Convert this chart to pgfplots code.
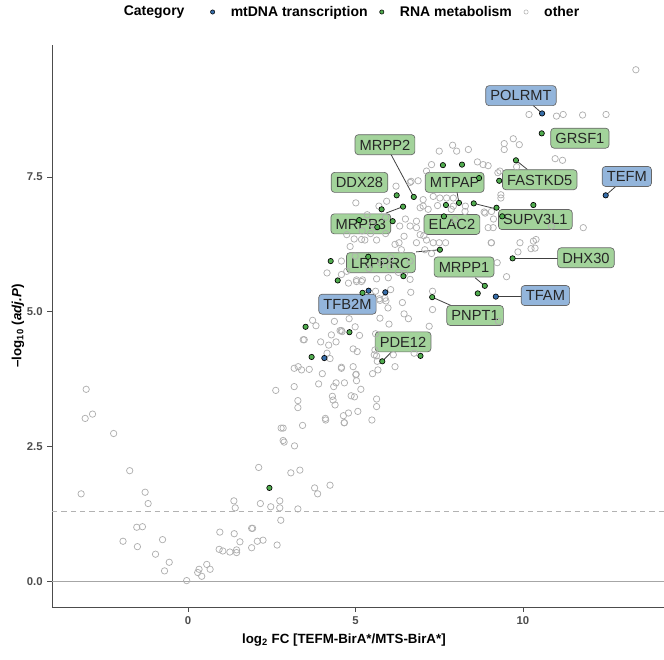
\documentclass[border=0pt]{standalone}
\usepackage{fontspec}
\setmainfont{Liberation Sans}
\usepackage{pgfplots}
\pgfplotsset{compat=1.18}
\definecolor{ogray}{RGB}{175,175,175}
\definecolor{ptgreen}{RGB}{80,172,78}
\definecolor{ptblue}{RGB}{55,110,170}
\definecolor{lblgreen}{RGB}{140,200,130}
\definecolor{lblblue}{RGB}{120,162,210}
\definecolor{tickgray}{RGB}{77,77,77}

\pgfplotstableread{
x y
-3.04 3.56
-3.07 3.02
-2.85 3.10
-2.22 2.74
-1.74 2.05
-3.19 1.62
-1.28 1.65
-1.19 1.44
-1.53 1.00
-1.36 1.01
-1.94 0.74
-1.51 0.64
-0.76 0.77
-0.97 0.50
-0.56 0.35
-0.70 0.19
-0.04 0.01
0.33 0.22
0.29 0.16
0.41 0.09
0.56 0.31
0.66 0.22
0.95 0.91
0.93 0.59
1.04 0.56
1.25 0.54
1.38 0.88
1.45 0.58
1.45 0.53
1.55 0.73
1.37 1.49
1.41 1.36
1.90 0.98
1.93 0.98
1.90 0.62
2.07 0.74
2.24 0.76
2.11 2.11
2.16 1.44
2.47 1.38
2.66 0.67
2.74 1.49
2.74 1.36
2.77 1.13
2.62 3.54
3.17 3.95
3.39 3.92
3.17 3.61
3.28 3.35
3.28 3.22
3.42 2.89
2.78 2.84
2.84 2.84
2.84 2.61
2.87 2.58
3.18 2.51
3.07 2.01
3.34 2.06
3.28 1.34
3.78 1.73
3.87 1.62
4.24 1.78
4.11 2.99
4.66 2.94
5.49 2.99
4.24 4.13
3.47 4.48
3.96 4.44
4.20 4.38
4.28 4.57
4.42 4.44
4.60 4.63
5.12 4.56
4.15 4.23
4.93 4.31
5.05 4.26
3.62 3.93
4.01 3.85
4.58 3.95
5.02 3.84
5.03 3.72
4.42 3.68
4.35 3.61
4.67 3.68
3.90 3.66
5.16 3.56
4.87 3.44
4.97 3.42
4.31 3.43
4.33 3.36
4.39 3.27
4.79 3.12
5.07 3.15
5.63 3.38
5.63 3.24
4.64 3.07
4.67 2.94
4.10 3.02
5.60 4.59
5.63 4.18
5.65 4.08
5.51 3.85
5.67 3.92
4.58 3.97
5.01 3.83
3.72 4.84
3.82 4.74
4.37 4.82
4.81 4.87
4.58 4.65
4.99 4.72
4.74 6.43
4.84 6.21
5.18 6.34
4.99 6.03
4.58 5.94
4.15 5.72
4.58 5.69
4.79 5.53
5.03 5.59
5.21 5.59
4.74 5.75
4.96 6.35
5.28 6.33
5.63 6.33
5.63 5.61
5.98 5.63
6.63 5.60
6.65 5.36
6.05 5.41
5.60 5.38
5.71 5.24
5.88 5.25
5.97 5.07
5.73 4.88
6.00 4.77
6.45 4.96
6.58 4.87
6.46 5.71
7.20 4.73
7.30 5.04
7.30 5.38
6.82 6.56
6.93 6.43
7.12 6.33
7.50 6.28
7.69 6.28
6.37 6.15
6.18 6.25
7.07 6.15
7.27 6.08
6.63 5.94
6.03 5.84
6.28 5.73
6.40 5.17
9.27 4.82
6.75 4.23
6.13 4.20
5.56 4.20
5.58 4.29
3.29 3.98
4.93 3.98
6.18 3.98
5.01 7.02
5.70 6.96
5.93 7.05
7.02 6.96
7.45 6.97
7.92 6.96
8.28 6.96
8.84 6.85
9.12 6.72
9.11 6.56
11.80 6.56
10.39 6.34
10.24 6.17
9.85 6.11
9.51 5.65
9.05 6.28
6.87 7.43
6.66 7.42
6.21 7.33
6.49 6.72
6.32 6.59
6.63 6.59
6.82 6.68
6.93 6.93
7.17 6.90
7.27 7.73
7.12 7.61
6.30 6.28
6.82 6.28
5.63 6.56
10.18 8.66
11.00 8.63
11.20 8.66
9.71 8.21
9.44 8.12
9.44 8.01
9.89 8.10
10.96 7.84
11.18 7.81
7.50 7.98
7.90 8.09
8.02 7.98
8.37 8.01
8.64 7.78
8.81 7.73
8.96 7.71
9.31 7.61
9.34 7.17
9.34 7.11
9.06 6.86
8.87 6.83
8.27 6.86
7.86 6.90
7.32 7.14
7.02 7.08
7.52 7.11
7.72 7.11
7.92 7.11
10.36 6.18
10.31 6.31
9.91 6.28
9.06 6.28
7.04 6.41
7.32 6.28
7.97 6.71
8.96 6.56
10.85 6.59
9.23 5.91
13.37 9.49
11.78 8.65
12.48 8.66
9.25 7.58
9.81 7.69
6.63 7.40
5.35 6.80
5.50 6.62
5.20 6.50
5.45 6.45
5.90 6.45
6.05 6.00
5.75 5.90
5.40 5.80
6.45 6.40
5.90 6.75
5.73 5.21
5.91 5.20
4.54 4.65
3.44 4.48
5.03 5.56
5.18 5.56
}\othertab

\pgfplotstableread{
x y
10.57 8.68
12.47 7.16
9.19 5.28
5.39 5.39
5.89 5.36
4.07 4.14
}\bluetab

\pgfplotstableread{
x y
10.56 8.31
9.79 7.81
7.61 7.72
8.18 7.73
8.69 7.48
9.29 7.43
6.23 7.16
6.74 7.13
6.42 6.95
5.78 6.90
7.70 6.98
8.09 7.02
8.53 7.01
9.21 6.93
10.31 6.98
9.38 6.77
5.11 6.70
5.65 6.57
6.11 6.68
7.64 6.77
7.52 6.15
4.26 5.94
5.38 6.02
4.47 5.58
6.43 5.66
9.69 5.99
8.86 5.48
8.65 5.34
7.29 5.27
5.21 5.35
3.51 4.72
4.82 4.62
3.69 4.16
5.80 4.08
6.94 4.18
2.43 1.73
}\greentab

\begin{document}
\begin{tikzpicture}[
  lbl/.style={rounded corners=2.5pt, draw=black!60, line width=0.5pt,
    fill opacity=0.8, text opacity=1, inner xsep=3.5pt, inner ysep=0pt,
    minimum height=15pt, text height=8pt, text depth=0pt,
    font=\fontsize{11}{13}\selectfont, text=black!85},
  lg/.style={lbl, fill=lblgreen},
  lb/.style={lbl, fill=lblblue}]
\useasboundingbox (0,0) rectangle (498pt,495pt);
\begin{axis}[
  at={(39pt,39.75pt)}, anchor=south west,
  scale only axis, width=459pt, height=421.5pt,
  xmin=-4.06, xmax=14.21, ymin=-0.48, ymax=9.95,
  axis lines*=left,
  axis line style={-, black!70, line width=0.6pt},
  tick style={black!70, line width=0.5pt},
  tick align=outside, major tick length=3.5pt,
  xtick={0,5,10}, ytick={0,2.5,5,7.5},
  /pgf/number format/assume math mode=true,
  yticklabel style={/pgf/number format/fixed, /pgf/number format/fixed zerofill, /pgf/number format/precision=1},
  ticklabel style={font=\fontsize{8.5}{9}\selectfont\bfseries, text=tickgray},
  xlabel={log\textsubscript{2} FC [TEFM-BirA*/MTS-BirA*]},
  ylabel={\textendash log\textsubscript{10} (\textit{adj.P})},
  label style={font=\fontsize{10}{12}\selectfont\bfseries},
  xlabel style={at={(axis description cs:0.477,-0.0587)}, anchor=center},
  ylabel style={at={(axis description cs:-0.0556,0.5)}, anchor=center},
  legend style={at={(0.4785,1.0587)}, anchor=center, draw=none, fill=none,
    legend columns=4, font=\fontsize{10.5}{12}\selectfont\bfseries,
    /tikz/every even column/.append style={column sep=7pt},
    /tikz/every odd column/.append style={column sep=10pt}},
  legend cell align=left,
]
\addlegendimage{empty legend}
\addlegendentry{Category\rule{10.5pt}{0pt}}
\addlegendimage{only marks, mark=*, mark size=1.6pt, mark options={fill=ptblue, draw=black, line width=0.4pt}}
\addlegendentry{mtDNA transcription}
\addlegendimage{only marks, mark=*, mark size=1.6pt, mark options={fill=ptgreen, draw=black, line width=0.4pt}}
\addlegendentry{RNA metabolism}
\addlegendimage{only marks, mark=o, mark size=1.6pt, mark options={draw=ogray, line width=0.4pt}}
\addlegendentry{other}

\addplot[forget plot, black!35, line width=0.5pt] coordinates {(-4.06,0) (14.21,0)};
\addplot[forget plot, black!30, line width=0.6pt, dash pattern=on 4pt off 3pt] coordinates {(-4.06,1.30) (14.21,1.30)};

\addplot[forget plot, only marks, mark=o, mark size=2.4pt, mark options={draw=ogray, line width=0.55pt}] table[x=x,y=y] {\othertab};
\addplot[forget plot, only marks, mark=*, mark size=2pt, mark options={fill=ptgreen, draw=black, line width=0.5pt}] table[x=x,y=y] {\greentab};
\addplot[forget plot, only marks, mark=*, mark size=2pt, mark options={fill=ptblue, draw=black, line width=0.5pt}] table[x=x,y=y] {\bluetab};

% segments
\addplot[forget plot, black!75, line width=0.6pt] coordinates {(10.30,8.83) (10.57,8.68)};
\addplot[forget plot, black!75, line width=0.6pt] coordinates {(6.05,7.93) (6.74,7.13)};
\addplot[forget plot, black!75, line width=0.6pt] coordinates {(8.03,7.22) (8.09,7.02)};
\addplot[forget plot, black!75, line width=0.6pt] coordinates {(9.79,7.81) (10.13,7.64)};
\addplot[forget plot, black!75, line width=0.6pt] coordinates {(12.78,7.33) (12.47,7.16)};
\addplot[forget plot, black!75, line width=0.6pt] coordinates {(6.42,6.95) (5.91,6.83)};
\addplot[forget plot, black!75, line width=0.6pt] coordinates {(8.53,7.01) (9.25,6.90)};
\addplot[forget plot, black!75, line width=0.6pt] coordinates {(6.81,6.11) (7.52,6.15)};
\addplot[forget plot, black!75, line width=0.6pt] coordinates {(8.57,5.63) (8.86,5.48)};
\addplot[forget plot, black!75, line width=0.6pt] coordinates {(9.69,5.99) (11.04,5.99)};
\addplot[forget plot, black!75, line width=0.6pt] coordinates {(9.19,5.28) (9.94,5.28)};
\addplot[forget plot, black!75, line width=0.6pt] coordinates {(7.29,5.27) (7.87,5.11)};
\addplot[forget plot, black!75, line width=0.6pt] coordinates {(6.07,4.25) (5.80,4.08)};

% labels
\node[lb] at (axis cs:9.94,9.01) {POLRMT};
\node[lg] at (axis cs:11.70,8.22) {GRSF1};
\node[lg] at (axis cs:5.88,8.10) {MRPP2};
\node[lg] at (axis cs:5.12,7.40) {DDX28};
\node[lg] at (axis cs:7.96,7.40) {MTPAP};
\node[lg] at (axis cs:10.50,7.45) {FASTKD5};
\node[lb] at (axis cs:13.10,7.51) {TEFM};
\node[lg] at (axis cs:5.16,6.63) {MRPP3};
\node[lg] at (axis cs:7.88,6.62) {ELAC2};
\node[lg] at (axis cs:10.37,6.71) {SUPV3L1};
\node[lg] at (axis cs:5.76,5.91) {LRPPRC};
\node[lg] at (axis cs:8.24,5.83) {MRPP1};
\node[lg] at (axis cs:11.88,6.00) {DHX30};
\node[lb] at (axis cs:10.67,5.30) {TFAM};
\node[lb] at (axis cs:4.76,5.14) {TFB2M};
\node[lg] at (axis cs:8.57,4.93) {PNPT1};
\node[lg] at (axis cs:6.42,4.44) {PDE12};
\end{axis}
\end{tikzpicture}
\end{document}
